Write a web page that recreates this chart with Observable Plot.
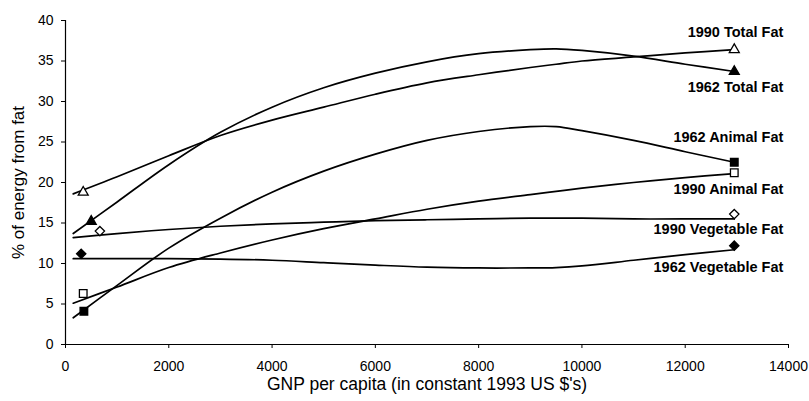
<!DOCTYPE html>
<html><head><meta charset="utf-8">
<script src="https://cdn.jsdelivr.net/npm/d3@7"></script>
<script src="https://cdn.jsdelivr.net/npm/@observablehq/plot@0.6"></script>
<style>body{margin:0;background:#fff;}</style>
</head><body><div id="chart"></div>
<script>
// ---- data ----
const seriesNames = ["1990 Total Fat", "1962 Total Fat", "1962 Animal Fat", "1990 Animal Fat", "1990 Vegetable Fat", "1962 Vegetable Fat"];
const gnpGrid = [150, 1000, 2000, 3000, 4000, 5000, 6000, 7000, 8000, 9000, 9500, 10000, 11000, 12000, 12950];
const total1990 = [18.6, 20.7, 23.3, 25.8, 27.7, 29.3, 30.9, 32.3, 33.3, 34.2, 34.6, 35.0, 35.5, 36.0, 36.4];
const total1962 = [13.7, 17.6, 22.2, 26.2, 29.3, 31.7, 33.5, 34.9, 35.9, 36.4, 36.5, 36.3, 35.6, 34.6, 33.7];
const animal1962 = [3.3, 7.3, 11.9, 15.6, 18.8, 21.4, 23.5, 25.2, 26.3, 26.9, 26.9, 26.4, 25.2, 23.8, 22.5];
const animal1990 = [5.1, 7.1, 9.5, 11.3, 12.9, 14.3, 15.5, 16.7, 17.7, 18.5, 18.9, 19.3, 20.0, 20.6, 21.1];
const veg1990 = [13.2, 13.7, 14.2, 14.6, 14.9, 15.1, 15.3, 15.4, 15.5, 15.6, 15.6, 15.6, 15.5, 15.5, 15.5];
const veg1962 = [10.6, 10.6, 10.6, 10.55, 10.4, 10.1, 9.8, 9.55, 9.45, 9.45, 9.5, 9.7, 10.4, 11.1, 11.7];
const curveValues = [total1990, total1962, animal1962, animal1990, veg1990, veg1962];
const startGnp = [343, 498, 356, 343, 666, 304];
const startPct = [18.8, 15.2, 4.1, 6.3, 14.0, 11.2];
const endGnp = [12950, 12950, 12950, 12950, 12950, 12950];
const endPct = [36.4, 33.7, 22.5, 21.2, 16.1, 12.2];
const xTicks = [0, 2000, 4000, 6000, 8000, 10000, 12000, 14000];
const yTicks = [0, 5, 10, 15, 20, 25, 30, 35, 40];

// ---- styles ----
const shapes = ["triangle", "triangle", "square", "square", "diamond2", "diamond2"];
const filled = [false, true, true, false, false, true];
const radii = [3.7, 3.7, 4.3, 4.3, 4.2, 4.2];
const labelDy = [-17.6, 16, -25, 16.7, 15.7, 21.7];
const FONT = "'Liberation Sans', Arial, sans-serif";

const lineRows = seriesNames.flatMap((name, i) => gnpGrid.map((g, j) => ({name, gnp: g, pct: curveValues[i][j]})));
const markerRows = seriesNames.flatMap((name, i) => [
  {name, gnp: startGnp[i], pct: startPct[i]},
  {name, gnp: endGnp[i], pct: endPct[i]}
]);
const labelRows = seriesNames.map((name, i) => ({name, gnp: endGnp[i], pct: endPct[i]}));

const chart = Plot.plot({
  width: 809,
  height: 401,
  marginLeft: 65,
  marginRight: 21,
  marginTop: 20,
  marginBottom: 57,
  style: {fontFamily: FONT, fontSize: "14px", color: "#000", background: "#fff"},
  x: {domain: [0, 14000], label: null},
  y: {domain: [0, 40], label: null},
  marks: [
    Plot.axisX({ticks: xTicks, tickSize: 4, tickPadding: 13, tickFormat: "d", fontSize: 14, label: null}),
    Plot.axisY({ticks: yTicks, tickSize: 4, tickPadding: 8, tickFormat: "d", fontSize: 14, label: null}),
    Plot.ruleX([0], {stroke: "#000", strokeWidth: 1.2}),
    Plot.ruleY([0], {stroke: "#000", strokeWidth: 1.2}),
    Plot.line(lineRows, {x: "gnp", y: "pct", z: "name", curve: "catmull-rom", stroke: "#000", strokeWidth: 1.7}),
    ...seriesNames.map((name, i) => Plot.dot(markerRows.filter(d => d.name === name), {
      x: "gnp", y: "pct", symbol: shapes[i], r: radii[i],
      fill: filled[i] ? "#000" : "#fff", stroke: "#000", strokeWidth: 1.3
    })),
    ...seriesNames.map((name, i) => Plot.text(labelRows.filter(d => d.name === name), {
      x: "gnp", y: "pct", text: "name", textAnchor: "end", dx: 49, dy: labelDy[i],
      fontWeight: "bold", fontSize: 14.5, fill: "#000"
    })),
    Plot.text(["% of energy from fat"], {text: d => d, frameAnchor: "left", rotate: -90, dx: -47, textAnchor: "middle", fontSize: 17, fill: "#000"}),
    Plot.text(["GNP per capita (in constant 1993 US $'s)"], {text: d => d, frameAnchor: "bottom", dy: 45.5, textAnchor: "middle", fontSize: 17.5, fill: "#000"})
  ]
});
document.getElementById("chart").appendChild(chart);
</script>
</body></html>
